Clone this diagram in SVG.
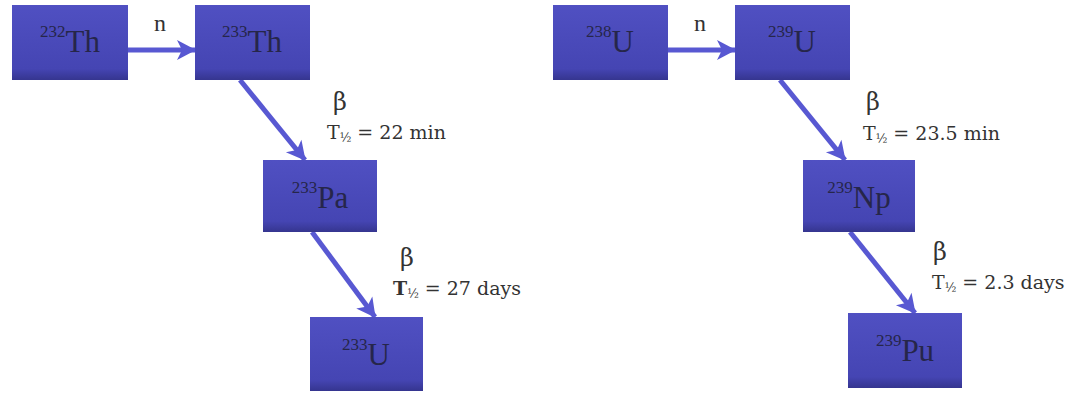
<svg xmlns="http://www.w3.org/2000/svg" width="1079" height="396" viewBox="0 0 1079 396">
<defs>
<linearGradient id="boxg" x1="0" y1="0" x2="0" y2="1">
<stop offset="0" stop-color="#5050c2"/>
<stop offset="0.85" stop-color="#4545b3"/>
<stop offset="1" stop-color="#35358f"/>
</linearGradient>
<marker id="ah" markerUnits="userSpaceOnUse" markerWidth="24" markerHeight="24" viewBox="0 0 24 24" refX="20" refY="12" orient="auto">
<path d="M2,2 L21,12 L2,22 L7,12 Z" fill="#5858d2"/>
</marker>
<style>
.box{fill:url(#boxg);}
.nt{font-family:"Liberation Serif","DejaVu Serif",serif;fill:#26264a;text-anchor:middle;}
.sup{font-size:17px;}
.big{font-size:31px;}
.nl{font-family:"Liberation Serif","DejaVu Serif",serif;fill:#333333;font-size:24px;}
.lbl{font-family:"DejaVu Serif",serif;fill:#333333;font-size:19px;}
.beta{font-family:"DejaVu Serif",serif;fill:#333333;font-size:24px;}
.half{font-size:12px;}
.conn{stroke:#5858d2;stroke-width:5;fill:none;marker-end:url(#ah);}
</style>
</defs>

<g id="connectors">
<line class="conn" x1="128" y1="50" x2="195" y2="50"/>
<line class="conn" x1="240" y1="80" x2="305" y2="160"/>
<line class="conn" x1="312" y1="232" x2="375" y2="317"/>
<line class="conn" x1="668" y1="50" x2="735" y2="50"/>
<line class="conn" x1="780" y1="80" x2="845" y2="160"/>
<line class="conn" x1="850" y1="232" x2="915" y2="313"/>
</g>

<g id="labels">
<text class="nl" x="154" y="31">n</text>
<text class="nl" x="694" y="31">n</text>
<text class="beta" x="333" y="110">β</text>
<text class="lbl" x="327" y="139">T<tspan class="half" dy="3">½</tspan><tspan dy="-3"> = 22 min</tspan></text>
<text class="beta" x="400" y="266">β</text>
<text class="lbl" x="393" y="295"><tspan font-weight="bold">T</tspan><tspan class="half" dy="3">½</tspan><tspan dy="-3"> = 27 days</tspan></text>
<text class="beta" x="866" y="110">β</text>
<text class="lbl" x="863" y="140">T<tspan class="half" dy="3">½</tspan><tspan dy="-3"> = 23.5 min</tspan></text>
<text class="beta" x="933" y="260">β</text>
<text class="lbl" x="932" y="289">T<tspan class="half" dy="3">½</tspan><tspan dy="-3"> = 2.3 days</tspan></text>
</g>

<g id="th232">
<rect class="box" x="12" y="5" width="116" height="75"/>
<text class="nt" x="70" y="52"><tspan class="sup" dy="-15">232</tspan><tspan class="big" dy="15">Th</tspan></text>
</g>
<g id="th233">
<rect class="box" x="195" y="5" width="115" height="75"/>
<text class="nt" x="252" y="52"><tspan class="sup" dy="-15">233</tspan><tspan class="big" dy="15">Th</tspan></text>
</g>
<g id="pa233">
<rect class="box" x="263" y="160" width="114" height="72"/>
<text class="nt" x="320" y="208"><tspan class="sup" dy="-15">233</tspan><tspan class="big" dy="15">Pa</tspan></text>
</g>
<g id="u233">
<rect class="box" x="310" y="317" width="113" height="74"/>
<text class="nt" x="366" y="365"><tspan class="sup" dy="-15">233</tspan><tspan class="big" dy="15">U</tspan></text>
</g>
<g id="u238">
<rect class="box" x="553" y="5" width="115" height="75"/>
<text class="nt" x="610" y="52"><tspan class="sup" dy="-15">238</tspan><tspan class="big" dy="15">U</tspan></text>
</g>
<g id="u239">
<rect class="box" x="735" y="5" width="115" height="75"/>
<text class="nt" x="792" y="52"><tspan class="sup" dy="-15">239</tspan><tspan class="big" dy="15">U</tspan></text>
</g>
<g id="np239">
<rect class="box" x="803" y="160" width="112" height="72"/>
<text class="nt" x="859" y="208"><tspan class="sup" dy="-15">239</tspan><tspan class="big" dy="15">Np</tspan></text>
</g>
<g id="pu239">
<rect class="box" x="848" y="313" width="114" height="75"/>
<text class="nt" x="905" y="361"><tspan class="sup" dy="-15">239</tspan><tspan class="big" dy="15">Pu</tspan></text>
</g>
</svg>
